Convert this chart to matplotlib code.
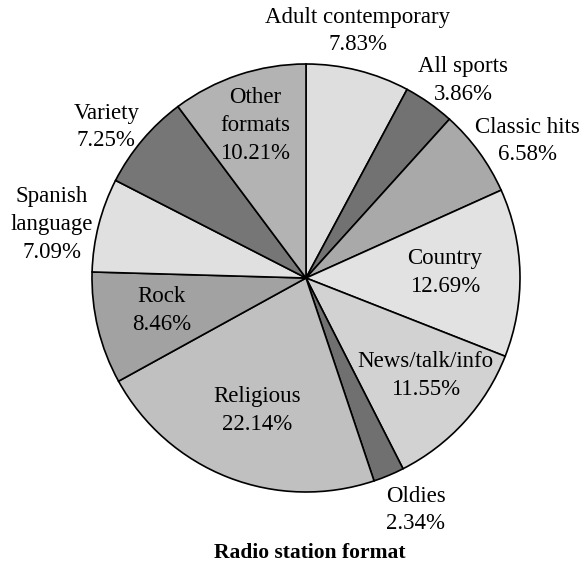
import numpy as np
import matplotlib
matplotlib.use("Agg")
import matplotlib.pyplot as plt

# data, clockwise from 12 o'clock
formats = ["Adult contemporary", "All sports", "Classic hits", "Country",
           "News/talk/info", "Oldies", "Religious", "Rock",
           "Spanish\nlanguage", "Variety", "Other\nformats"]
shares = [7.83, 3.86, 6.58, 12.69, 11.55, 2.34, 22.14, 8.46, 7.09, 7.25, 10.21]
pct_text = ["7.83%", "3.86%", "6.58%", "12.69%", "11.55%", "2.34%",
            "22.14%", "8.46%", "7.09%", "7.25%", "10.21%"]

# styling: grey shades, label radius and angular nudge (deg, clockwise) per slice
shades = ["#dedede", "#727272", "#a9a9a9", "#e2e2e2", "#d2d2d2", "#707070",
          "#c0c0c0", "#a2a2a2", "#e0e0e0", "#767676", "#b3b3b3"]
label_r = [1.18, 1.18, 1.215, 0.65, 0.72, 1.20, 0.66, 0.69, 1.213, 1.17, 0.75]
label_dang = [-2.2, 3.3, 4.3, -1.0, -3.0, -2.6, -1.0, 1.0, -2.5, -3.1, 0.0]

plt.rcParams["font.family"] = ["Liberation Serif", "DejaVu Serif"]

W, H = 581, 565
cx, cy, R = 306, 278, 214
fig = plt.figure(figsize=(W / 100, H / 100), dpi=100)
ax = fig.add_axes([0, 0, 1, 1])

wedges, _ = ax.pie(shares, colors=shades, startangle=90, counterclock=False,
                   radius=1.0, wedgeprops=dict(edgecolor="black", linewidth=1.2))
ax.set_aspect("auto")
ax.set_xlim(-cx / R, (W - cx) / R)
ax.set_ylim((cy - H) / R, cy / R)
ax.axis("off")

for w, name, pct, r, da in zip(wedges, formats, pct_text, label_r, label_dang):
    mid = np.deg2rad(0.5 * (w.theta1 + w.theta2) - da)
    ax.text(r * np.cos(mid), r * np.sin(mid), f"{name}\n{pct}",
            ha="center", va="center", fontsize=16.5, linespacing=1.42)

fig.text(310 / W, 1 - 553 / H, "Radio station format", ha="center",
         va="center", fontsize=15.5, fontweight="bold")

fig.savefig("out.png", dpi=100)
